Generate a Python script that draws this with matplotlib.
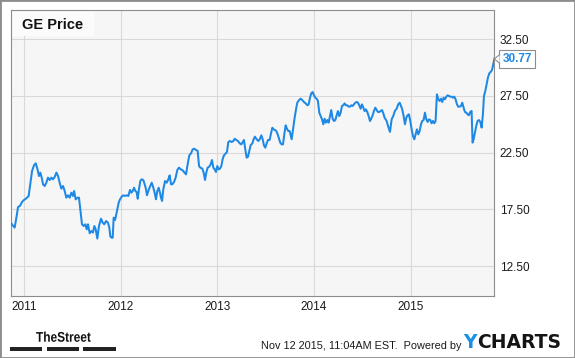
import matplotlib
matplotlib.use("Agg")
import matplotlib.pyplot as plt
from matplotlib.patches import Rectangle, Polygon, PathPatch
from matplotlib.lines import Line2D
from matplotlib.textpath import TextPath
from matplotlib.font_manager import FontProperties
from matplotlib.transforms import Affine2D, IdentityTransform

plt.rcParams["font.family"] = ["Liberation Sans", "DejaVu Sans"]

# GE closing price (decimal year, USD)
years = [
    2010.859, 2010.880, 2010.900, 2010.918, 2010.935, 2010.955, 2010.976, 2010.997,
    2011.021, 2011.045, 2011.059, 2011.080, 2011.100, 2011.118, 2011.135, 2011.152,
    2011.166, 2011.180, 2011.194, 2011.211, 2011.228, 2011.245, 2011.263, 2011.280,
    2011.297, 2011.314, 2011.332, 2011.349, 2011.366, 2011.383, 2011.401, 2011.418,
    2011.435, 2011.452, 2011.470, 2011.487, 2011.504, 2011.515, 2011.532, 2011.549,
    2011.566, 2011.580, 2011.597, 2011.615, 2011.632, 2011.646, 2011.659, 2011.677,
    2011.694, 2011.711, 2011.725, 2011.739, 2011.756, 2011.773, 2011.794, 2011.811,
    2011.828, 2011.846, 2011.866, 2011.880, 2011.891, 2011.904, 2011.915, 2011.925,
    2011.939, 2011.949, 2011.963, 2011.977, 2011.991, 2012.008, 2012.025, 2012.042,
    2012.060, 2012.077, 2012.094, 2012.108, 2012.122, 2012.136, 2012.149, 2012.163,
    2012.174, 2012.187, 2012.201, 2012.215, 2012.232, 2012.246, 2012.260, 2012.270,
    2012.284, 2012.301, 2012.319, 2012.336, 2012.353, 2012.363, 2012.377, 2012.391,
    2012.405, 2012.415, 2012.426, 2012.439, 2012.457, 2012.474, 2012.491, 2012.505,
    2012.519, 2012.532, 2012.550, 2012.567, 2012.584, 2012.601, 2012.619, 2012.636,
    2012.653, 2012.674, 2012.691, 2012.708, 2012.726, 2012.743, 2012.760, 2012.777,
    2012.795, 2012.809, 2012.822, 2012.843, 2012.857, 2012.871, 2012.884, 2012.898,
    2012.915, 2012.929, 2012.943, 2012.957, 2012.971, 2012.984, 2012.998, 2013.012,
    2013.026, 2013.040, 2013.053, 2013.067, 2013.085, 2013.098, 2013.112, 2013.129,
    2013.147, 2013.164, 2013.178, 2013.195, 2013.212, 2013.230, 2013.247, 2013.261,
    2013.274, 2013.288, 2013.302, 2013.316, 2013.330, 2013.343, 2013.361, 2013.374,
    2013.388, 2013.405, 2013.423, 2013.437, 2013.454, 2013.468, 2013.481, 2013.495,
    2013.509, 2013.523, 2013.540, 2013.554, 2013.568, 2013.581, 2013.595, 2013.609,
    2013.623, 2013.637, 2013.650, 2013.664, 2013.678, 2013.692, 2013.706, 2013.719,
    2013.733, 2013.747, 2013.768, 2013.782, 2013.799, 2013.813, 2013.826, 2013.844,
    2013.861, 2013.878, 2013.895, 2013.913, 2013.930, 2013.944, 2013.958, 2013.971,
    2013.985, 2013.999, 2014.013, 2014.027, 2014.040, 2014.054, 2014.068, 2014.082,
    2014.096, 2014.109, 2014.123, 2014.137, 2014.151, 2014.165, 2014.178, 2014.192,
    2014.206, 2014.220, 2014.234, 2014.247, 2014.261, 2014.275, 2014.289, 2014.303,
    2014.316, 2014.330, 2014.344, 2014.358, 2014.372, 2014.385, 2014.399, 2014.413,
    2014.427, 2014.441, 2014.454, 2014.468, 2014.482, 2014.496, 2014.510, 2014.523,
    2014.537, 2014.551, 2014.565, 2014.579, 2014.592, 2014.606, 2014.620, 2014.634,
    2014.648, 2014.661, 2014.675, 2014.689, 2014.703, 2014.717, 2014.730, 2014.751,
    2014.768, 2014.786, 2014.803, 2014.820, 2014.837, 2014.855, 2014.872, 2014.886,
    2014.900, 2014.913, 2014.927, 2014.941, 2014.955, 2014.969, 2014.982, 2014.996,
    2015.010, 2015.024, 2015.038, 2015.051, 2015.065, 2015.079, 2015.093, 2015.107,
    2015.120, 2015.134, 2015.148, 2015.162, 2015.176, 2015.189, 2015.203, 2015.217,
    2015.231, 2015.245, 2015.258, 2015.272, 2015.286, 2015.300, 2015.314, 2015.327,
    2015.341, 2015.355, 2015.369, 2015.383, 2015.396, 2015.410, 2015.424, 2015.438,
    2015.452, 2015.465, 2015.479, 2015.493, 2015.507, 2015.521, 2015.534, 2015.548,
    2015.562, 2015.576, 2015.590, 2015.603, 2015.617, 2015.631, 2015.641, 2015.652,
    2015.666, 2015.679, 2015.693, 2015.707, 2015.721, 2015.735, 2015.748, 2015.759,
    2015.773, 2015.786, 2015.800, 2015.814, 2015.828, 2015.842, 2015.855, 2015.866,
]
prices = [
    16.33, 16.09, 15.89, 16.77, 17.71, 17.80, 18.15, 18.33,
    18.47, 18.68, 19.56, 20.88, 21.38, 21.56, 21.09, 20.44,
    20.74, 20.30, 19.71, 19.56, 19.85, 20.30, 20.09, 20.30,
    20.15, 20.35, 20.74, 20.44, 19.85, 19.33, 19.56, 19.12,
    18.53, 18.74, 18.53, 18.97, 18.68, 19.12, 18.38, 18.53,
    18.53, 17.50, 16.18, 16.03, 16.18, 15.74, 16.18, 15.39,
    15.59, 15.45, 16.03, 15.74, 14.92, 16.03, 16.68, 16.33,
    16.18, 16.47, 16.33, 15.89, 15.09, 15.00, 15.00, 16.77,
    16.56, 16.92, 17.50, 18.09, 18.39, 18.62, 18.74, 18.68,
    18.74, 18.68, 19.21, 18.97, 19.12, 19.41, 19.12, 19.03,
    18.44, 19.27, 20.00, 20.15, 20.09, 19.71, 19.27, 18.74,
    19.12, 19.50, 19.85, 19.41, 18.83, 18.39, 19.12, 19.41,
    18.97, 18.53, 18.24, 19.27, 20.00, 19.85, 20.15, 20.50,
    19.71, 19.71, 19.91, 20.30, 20.97, 21.18, 21.03, 20.97,
    20.80, 20.59, 21.47, 22.26, 22.44, 22.79, 22.85, 22.74,
    22.65, 21.32, 21.18, 21.09, 20.74, 20.09, 20.74, 21.18,
    21.27, 21.47, 21.85, 21.18, 21.03, 20.80, 21.32, 21.03,
    21.09, 21.32, 21.91, 22.26, 22.44, 22.56, 23.44, 23.53,
    23.44, 23.53, 23.73, 23.62, 23.53, 23.32, 23.23, 23.44,
    23.62, 22.79, 22.06, 22.15, 22.65, 23.15, 23.32, 23.68,
    23.91, 23.68, 23.53, 23.68, 24.03, 23.68, 23.15, 22.94,
    23.32, 23.62, 23.62, 24.20, 24.70, 24.56, 24.50, 24.41,
    24.12, 23.73, 23.38, 23.23, 23.23, 24.12, 24.91, 24.62,
    24.41, 24.41, 23.68, 24.56, 25.59, 26.32, 26.91, 27.14,
    27.26, 27.14, 26.97, 26.85, 26.68, 26.76, 27.35, 27.73,
    27.85, 27.56, 27.35, 27.26, 27.06, 26.03, 25.73, 25.44,
    25.00, 25.50, 25.15, 25.38, 25.15, 25.73, 26.26, 25.50,
    25.29, 25.38, 25.79, 26.17, 25.73, 26.03, 26.62, 26.68,
    26.85, 26.68, 26.68, 26.56, 26.56, 26.68, 26.62, 26.76,
    26.91, 26.97, 26.91, 26.68, 26.38, 26.76, 26.47, 26.17,
    26.32, 26.09, 25.73, 25.29, 25.50, 25.79, 26.17, 26.47,
    26.26, 26.09, 26.09, 26.17, 26.26, 25.97, 25.59, 25.30,
    24.80, 24.33, 25.44, 25.74, 26.18, 26.38, 26.77, 26.91,
    26.62, 26.32, 25.74, 25.00, 25.59, 25.80, 25.88, 25.30,
    24.56, 23.97, 23.68, 24.12, 24.56, 24.12, 24.41, 25.00,
    25.30, 25.38, 26.03, 25.44, 25.21, 25.44, 25.38, 25.09,
    25.30, 25.09, 25.30, 27.65, 27.21, 27.06, 27.26, 26.97,
    27.35, 27.21, 27.44, 27.56, 27.50, 27.44, 27.44, 27.35,
    27.44, 27.21, 26.77, 26.56, 26.56, 26.62, 26.91, 26.47,
    26.09, 26.03, 25.88, 25.80, 26.09, 26.18, 23.39, 23.68,
    24.27, 24.86, 25.30, 25.38, 25.21, 24.71, 25.88, 27.50,
    27.94, 28.53, 29.12, 29.50, 29.62, 29.79, 30.29, 30.77,
]

year_ticks = [2011, 2012, 2013, 2014, 2015]
year_labels = ["2011", "2012", "2013", "2014", "2015"]
price_ticks = [12.5, 17.5, 22.5, 27.5, 32.5]

LINE_COLOR = "#1e88e5"
GRID_COLOR = "#d9d9d9"
FRAME_COLOR = "#8c8c8c"
W, H = 575, 358

fig = plt.figure(figsize=(W / 100, H / 100), dpi=100)
fig.patch.set_facecolor("white")

ax = fig.add_axes([10.7 / W, 1 - 295.5 / H, (494.3 - 10.7) / W, (295.5 - 10.3) / H])
ax.set_facecolor("#f6f6f6")
ax.plot(years, prices, color=LINE_COLOR, lw=1.45, zorder=3, solid_joinstyle="round")

ax.set_xlim(years[0], years[-1])
ax.set_ylim(9.9, 35.06)

ax.set_xticks(year_ticks)
ax.set_xticklabels(year_labels)
ax.set_yticks(price_ticks)
ax.set_yticklabels([f"{v:.2f}" for v in price_ticks])
ax.yaxis.tick_right()
ax.tick_params(axis="both", length=0, labelsize=8.5, colors="#1a1a1a")
ax.tick_params(axis="y", pad=4)
ax.tick_params(axis="x", pad=4)
ax.grid(True, color=GRID_COLOR, lw=0.8)
ax.set_axisbelow(True)
for sp in ax.spines.values():
    sp.set_color(FRAME_COLOR)
    sp.set_linewidth(0.8)

# title panel in the top-left corner
ax.add_patch(Rectangle((0.003, 0.91), 0.169, 0.09, transform=ax.transAxes,
                       fc="#fbfbfb", ec="none", zorder=1))
ax.text(0.0227, 0.934, "GE Price", transform=ax.transAxes, fontsize=10.5,
        fontweight="bold", color="#111111", va="baseline", ha="left", zorder=4)

# last value flag
ax.annotate(f"{prices[-1]:.2f}", xy=(years[-1], prices[-1]), xytext=(5.8, 0),
            textcoords="offset points", va="center", ha="left", fontsize=8.5,
            fontweight="bold", color=LINE_COLOR, annotation_clip=False, zorder=6,
            bbox=dict(boxstyle="square,pad=0.27", fc="white", ec=FRAME_COLOR, lw=0.8))
fig.canvas.draw()
px, py = ax.transData.transform((years[-1], prices[-1]))
notch = [(px, py), (px + 5.3, py + 4.3), (px + 5.3, py - 4.3)]
fig.patches.append(Polygon(notch, closed=True, fc="white", ec="none",
                           transform=IdentityTransform(), zorder=7))
fig.lines.append(Line2D([px + 5.3, px, px + 5.3], [py + 4.3, py, py - 4.3],
                        color=FRAME_COLOR, lw=0.8, transform=IdentityTransform(), zorder=8))

# footer
fig.text(261 / W, 1 - 349 / H, "Nov 12 2015, 11:04AM EST.  Powered by", fontsize=7.8,
         color="#1a1a1a", ha="left", va="baseline")
fig.text(463 / W, 1 - 348.5 / H, "Y", fontsize=13.5, fontweight="bold",
         family="DejaVu Sans", color="#1a8fe3", ha="left", va="baseline")
fig.text(477.5 / W, 1 - 348.5 / H, "CHARTS", fontsize=13.5, fontweight="bold",
         family="DejaVu Sans", color="#141414", ha="left", va="baseline")

# TheStreet logo, condensed bold wordmark with three bars underneath
tp = TextPath((0, 0), "TheStreet", size=14,
              prop=FontProperties(family="Liberation Sans", weight="bold"))
fig.patches.append(PathPatch(tp, fc="#111111", ec="none",
                             transform=Affine2D().scale(0.85, 1.0).translate(36, H - 341.7)))
for x0, x1 in [(10, 42.3), (46.7, 79), (83.3, 116)]:
    fig.patches.append(Rectangle((x0 / W, 1 - 350.7 / H), (x1 - x0) / W, 4 / H,
                                 transform=fig.transFigure, fc="#222222", ec="none"))

# outer frame
fig.patches.append(Rectangle((0, 0), 1, 1, transform=fig.transFigure, fill=False,
                             ec=FRAME_COLOR, lw=2.0))

fig.savefig("out.png", dpi=100)
